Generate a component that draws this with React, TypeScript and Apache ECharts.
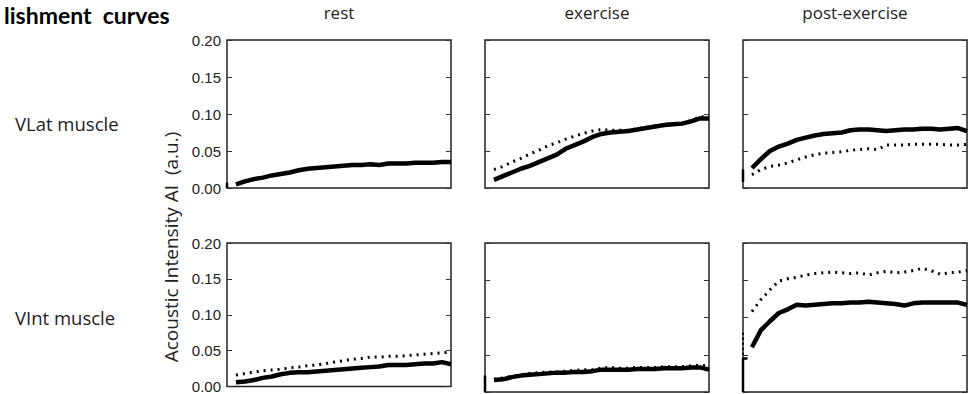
import React, { useEffect, useRef } from "react";
import * as echarts from "echarts";

// time axis (arbitrary units, 0..100)
const time = [4, 8, 12, 16, 20, 24, 28, 32, 36, 40, 44, 48, 52, 56, 60, 64, 68, 72, 76, 80, 84, 88, 92, 96, 100];

const columns = ["rest", "exercise", "post-exercise"];
const rows = ["VLat muscle", "VInt muscle"];

// VLat muscle
const vlatRestSolid = [0.005, 0.009, 0.012, 0.014, 0.017, 0.019, 0.021, 0.024, 0.026, 0.027, 0.028, 0.029, 0.030, 0.031, 0.031, 0.032, 0.031, 0.033, 0.033, 0.033, 0.034, 0.034, 0.034, 0.035, 0.035];
const vlatExSolid = [0.011, 0.016, 0.021, 0.026, 0.030, 0.035, 0.040, 0.045, 0.053, 0.058, 0.063, 0.069, 0.073, 0.075, 0.076, 0.077, 0.079, 0.081, 0.083, 0.085, 0.086, 0.087, 0.090, 0.094, 0.094];
const vlatExDotted = [0.025, 0.029, 0.035, 0.040, 0.046, 0.051, 0.057, 0.061, 0.066, 0.070, 0.074, 0.077, 0.079, 0.078, 0.078, 0.078, 0.080, 0.082, 0.084, 0.086, 0.087, 0.088, 0.091, 0.096, 0.097];
const vlatPostSolid = [0.027, 0.039, 0.050, 0.056, 0.060, 0.065, 0.068, 0.071, 0.073, 0.074, 0.075, 0.078, 0.079, 0.079, 0.078, 0.077, 0.078, 0.079, 0.079, 0.080, 0.080, 0.079, 0.080, 0.081, 0.077];
const vlatPostDotted = [0.018, 0.025, 0.029, 0.031, 0.034, 0.038, 0.042, 0.045, 0.047, 0.048, 0.049, 0.051, 0.052, 0.053, 0.052, 0.058, 0.058, 0.058, 0.059, 0.059, 0.059, 0.059, 0.058, 0.058, 0.059];

// VInt muscle
const vintRestSolid = [0.006, 0.007, 0.009, 0.012, 0.014, 0.017, 0.019, 0.020, 0.020, 0.021, 0.022, 0.023, 0.024, 0.025, 0.026, 0.027, 0.028, 0.030, 0.030, 0.030, 0.031, 0.032, 0.032, 0.034, 0.031];
const vintRestDotted = [0.016, 0.018, 0.020, 0.022, 0.023, 0.024, 0.026, 0.027, 0.029, 0.030, 0.032, 0.034, 0.036, 0.038, 0.039, 0.041, 0.041, 0.042, 0.042, 0.043, 0.044, 0.045, 0.046, 0.047, 0.048];
const vintExSolid = [0.016, 0.017, 0.020, 0.022, 0.023, 0.024, 0.025, 0.026, 0.026, 0.027, 0.027, 0.028, 0.030, 0.030, 0.030, 0.030, 0.031, 0.031, 0.031, 0.032, 0.032, 0.032, 0.033, 0.033, 0.030];
const vintExDotted = [0.017, 0.019, 0.021, 0.023, 0.025, 0.026, 0.027, 0.027, 0.028, 0.029, 0.030, 0.030, 0.032, 0.033, 0.032, 0.032, 0.033, 0.033, 0.033, 0.034, 0.034, 0.034, 0.035, 0.036, 0.035];
const vintPostSolid = [0.060, 0.083, 0.095, 0.106, 0.111, 0.117, 0.116, 0.117, 0.118, 0.119, 0.119, 0.120, 0.120, 0.121, 0.120, 0.119, 0.118, 0.116, 0.119, 0.120, 0.120, 0.120, 0.120, 0.120, 0.117];
const vintPostDotted = [0.108, 0.124, 0.137, 0.149, 0.152, 0.154, 0.157, 0.159, 0.160, 0.161, 0.160, 0.159, 0.160, 0.157, 0.160, 0.162, 0.160, 0.161, 0.163, 0.166, 0.163, 0.158, 0.160, 0.161, 0.163];

// first (t = 0) readings, drawn as short vertical marks at the start
const vlatRestInitial = [[0, 0], [0, 0.007]];
const vlatPostInitial = [[0, 0.008], [0, 0.025]];
const vintExInitial = [[0, 0], [0, 0.022]];
const vintPostInitial = [[0, 0], [0, 0.045], [2, 0.045]];
const vintPostDottedInitial = [[0, 0.05], [0, 0.08]];

type Panel = { solid: number[]; dotted?: number[]; initial?: number[][]; dottedInitial?: number[][] };
const panels: Panel[] = [
  { solid: vlatRestSolid, initial: vlatRestInitial },
  { solid: vlatExSolid, dotted: vlatExDotted },
  { solid: vlatPostSolid, dotted: vlatPostDotted, initial: vlatPostInitial },
  { solid: vintRestSolid, dotted: vintRestDotted },
  { solid: vintExSolid, dotted: vintExDotted, initial: vintExInitial },
  { solid: vintPostSolid, dotted: vintPostDotted, initial: vintPostInitial, dottedInitial: vintPostDottedInitial },
];

const pair = (vals: number[]) => vals.map((v, i) => [time[i], v]);

export default function App() {
  const ref = useRef<HTMLDivElement>(null);
  useEffect(() => {
    if (!ref.current) return;
    const chart = echarts.init(ref.current, undefined, { renderer: "svg" });
    const lefts = [227, 485, 743];
    const tops = [40, 243];
    const heights = [148, 149];
    const grids: any[] = [];
    const xAxes: any[] = [];
    const yAxes: any[] = [];
    const series: any[] = [];
    panels.forEach((p, i) => {
      const c = i % 3;
      const r = Math.floor(i / 3);
      grids.push({
        left: lefts[c], top: tops[r], width: 224, height: heights[r],
        show: true, borderColor: "#222", borderWidth: 1.5, backgroundColor: "transparent",
      });
      xAxes.push({ type: "value", gridIndex: i, min: 0, max: 100, show: false });
      const base = {
        type: "value", gridIndex: i, min: 0, max: 0.2, interval: 0.05,
        axisLine: { show: false }, splitLine: { show: false },
        axisTick: { show: true, inside: true, length: 5, lineStyle: { color: "#333", width: 1 } },
      };
      yAxes.push({
        ...base, position: "left",
        axisLabel: {
          show: c === 0, formatter: (v: number) => v.toFixed(2), color: "#222",
          fontFamily: "Liberation Sans", fontSize: 15, margin: 6,
        },
      });
      yAxes.push({ ...base, position: "right", axisLabel: { show: false } });
      const yi = i * 2;
      if (p.dotted) {
        series.push({
          type: "line", xAxisIndex: i, yAxisIndex: yi, data: pair(p.dotted), showSymbol: false,
          lineStyle: { color: "#000", width: 3, type: [2, 5] },
        });
      }
      if (p.dottedInitial) {
        series.push({
          type: "line", xAxisIndex: i, yAxisIndex: yi, data: p.dottedInitial, showSymbol: false,
          lineStyle: { color: "#000", width: 2, type: [2, 3] },
        });
      }
      series.push({
        type: "line", xAxisIndex: i, yAxisIndex: yi, data: pair(p.solid), showSymbol: false,
        lineStyle: { color: "#000", width: 4.5 },
      });
      if (p.initial) {
        series.push({
          type: "line", xAxisIndex: i, yAxisIndex: yi, data: p.initial, showSymbol: false,
          lineStyle: { color: "#000", width: 2.5 },
        });
      }
    });
    const graphics: any[] = [
      {
        type: "text", x: 4, y: 3,
        style: { text: "lishment  curves", font: "bold 23px Lato", fill: "#000", align: "left", verticalAlign: "top" },
      },
      ...columns.map((t, c) => ({
        type: "text", x: lefts[c] + 112, y: 12,
        style: { text: t, font: "17px 'Open Sans'", fill: "#222", align: "center", verticalAlign: "middle" },
      })),
      ...rows.map((t, r) => ({
        type: "text", x: 15, y: [123, 317][r],
        style: { text: t, font: "18.5px 'Open Sans'", fill: "#222", align: "left", verticalAlign: "middle" },
      })),
      {
        type: "text", x: 171, y: 247, rotation: Math.PI / 2,
        style: { text: "Acoustic Intensity AI  (a.u.)", font: "19px 'Open Sans'", fill: "#222", align: "center", verticalAlign: "middle" },
      },
    ];
    chart.setOption({
      animation: false,
      backgroundColor: "#fff",
      grid: grids,
      xAxis: xAxes,
      yAxis: yAxes,
      series,
      graphic: graphics,
    });
    return () => chart.dispose();
  }, []);
  return <div ref={ref} style={{ position: "absolute", left: 0, top: 0, width: 975, height: 394 }} />;
}
